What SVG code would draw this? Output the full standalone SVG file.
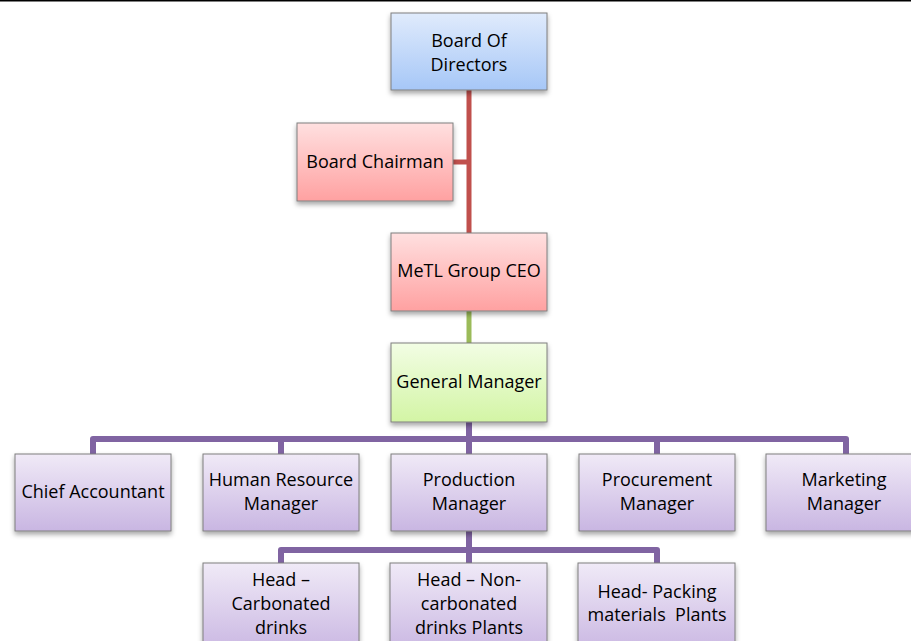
<svg xmlns="http://www.w3.org/2000/svg" width="911" height="641" viewBox="0 0 911 641">
<defs>
<linearGradient id="gBlue" x1="0" y1="0" x2="0" y2="1"><stop offset="0" stop-color="#e0ebfc"/><stop offset="1" stop-color="#a6c7f7"/></linearGradient>
<linearGradient id="gRed" x1="0" y1="0" x2="0" y2="1"><stop offset="0" stop-color="#ffe0e0"/><stop offset="1" stop-color="#ffa1a1"/></linearGradient>
<linearGradient id="gGreen" x1="0" y1="0" x2="0" y2="1"><stop offset="0" stop-color="#f2fde4"/><stop offset="1" stop-color="#d3f5a5"/></linearGradient>
<linearGradient id="gPurple" x1="0" y1="0" x2="0" y2="1"><stop offset="0" stop-color="#f0eaf7"/><stop offset="1" stop-color="#c9b6e2"/></linearGradient>
<filter id="sh" x="-10%" y="-10%" width="120%" height="130%"><feDropShadow dx="0" dy="3" stdDeviation="2.5" flood-color="#000" flood-opacity="0.35"/></filter>
</defs>
<style>
.box{stroke:#7f7f7f;stroke-width:1;filter:url(#sh)}
.b{fill:url(#gBlue)}.r{fill:url(#gRed)}.g{fill:url(#gGreen)}.p{fill:url(#gPurple)}
text{font-family:"Open Sans","Liberation Sans",sans-serif;font-size:18px;fill:#000;text-anchor:middle}
.c{fill:none;stroke-linejoin:round}
.cr{stroke:#c0504d;stroke-width:5}
.cg{stroke:#9bbb59;stroke-width:5}
.cp{stroke:#8064a2;stroke-width:6}
</style>
<rect x="0" y="0" width="911" height="641" fill="#fff"/>
<line x1="0" y1="0.75" x2="911" y2="0.75" stroke="#000" stroke-width="1.5"/>
<g id="connectors">
<path class="c cr" d="M469 90 V233 M453 162 H469"/>
<path class="c cg" d="M469 311 V343"/>
<path class="c cp" d="M469 422 V454 M93 454 V439 H846 V454 M281 454 V439 M657 454 V439"/>
<path class="c cp" d="M469 531 V563 M281 563 V550 H657 V563"/>
</g>
<g id="board"><rect class="box b" x="391" y="13" width="156" height="77"/><text x="469" y="47">Board Of</text><text x="469" y="71">Directors</text></g>
<g id="chairman"><rect class="box r" x="297" y="123" width="156" height="78"/><text x="375" y="168">Board Chairman</text></g>
<g id="ceo"><rect class="box r" x="391" y="233" width="156" height="78"/><text x="469" y="277">MeTL Group CEO</text></g>
<g id="gm"><rect class="box g" x="391" y="343" width="156" height="79"/><text x="469" y="388">General Manager</text></g>
<g id="chief"><rect class="box p" x="15" y="454" width="156" height="77"/><text x="93" y="498">Chief Accountant</text></g>
<g id="hr"><rect class="box p" x="203" y="454" width="156" height="77"/><text x="281" y="486">Human Resource</text><text x="281" y="510">Manager</text></g>
<g id="production"><rect class="box p" x="391" y="454" width="156" height="77"/><text x="469" y="486">Production</text><text x="469" y="510">Manager</text></g>
<g id="procurement"><rect class="box p" x="579" y="454" width="156" height="77"/><text x="657" y="486">Procurement</text><text x="657" y="510">Manager</text></g>
<g id="marketing"><rect class="box p" x="766" y="454" width="156" height="77"/><text x="844" y="486">Marketing</text><text x="844" y="510">Manager</text></g>
<g id="carbonated"><rect class="box p" x="203" y="563" width="156" height="90"/><text x="281" y="586">Head –</text><text x="281" y="610">Carbonated</text><text x="281" y="634">drinks</text></g>
<g id="noncarbonated"><rect class="box p" x="390" y="563" width="157" height="90"/><text x="469" y="586">Head – Non-</text><text x="469" y="610">carbonated</text><text x="469" y="634">drinks Plants</text></g>
<g id="packing"><rect class="box p" x="578" y="563" width="157" height="90"/><text x="657" y="598">Head- Packing</text><text x="657" y="621" xml:space="preserve">materials  Plants</text></g>
</svg>
